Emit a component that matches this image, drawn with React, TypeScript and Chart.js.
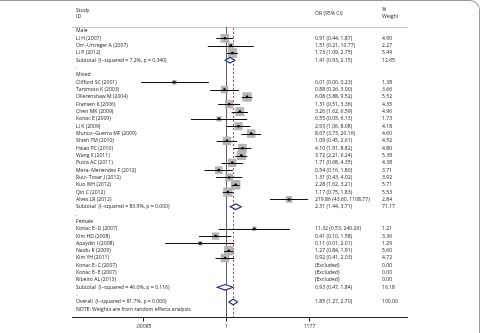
import { useEffect, useRef } from "react";
import { Chart, registerables } from "chart.js";

Chart.register(...registerables);

// One entry per plotted row, top to bottom.
const rowLabels = [
  "Male",
  "Li H (2007)",
  "Orr−Urtreger A (2007)",
  "Li P (2012)",
  "Subtotal  (I−squared = 7.2%, p = 0.340)",
  ".",
  "Mixed",
  "Clifford SC (2001)",
  "Tanimoto K (2003)",
  "Ollerenshaw M (2004)",
  "Fransen K (2006)",
  "Chen MK (2009)",
  "Konac E (2009)",
  "Li K (2009)",
  "Munoz−Guerra MF (2009)",
  "Shieh TM (2010)",
  "Hsiao PC (2010)",
  "Wang X (2011)",
  "Putra AC (2011)",
  "Mera−Menendez F (2012)",
  "Ruiz−Tovar J (2012)",
  "Kuo WH (2012)",
  "Qin C (2012)",
  "Alves LR (2012)",
  "Subtotal  (I−squared = 83.9%, p = 0.000)",
  ".",
  "Female",
  "Konac E−D (2007)",
  "Kim HD (2008)",
  "Apaydin I (2008)",
  "Naidu R (2009)",
  "Kim YH (2011)",
  "Konac E−C (2007)",
  "Konac E−E (2007)",
  "Ribeiro AL (2013)",
  "Subtotal  (I−squared = 46.0%, p = 0.116)",
  ".",
  "Overall  (I−squared = 81.7%, p = 0.000)",
  "NOTE: Weights are from random effects analysis",
];

const rowKinds = [
  "head", "study", "study", "study", "sub", "gap",
  "head",
  "study", "study", "study", "study", "study", "study", "study", "study", "study",
  "study", "study", "study", "study", "study", "study", "study", "study",
  "sub", "gap",
  "head",
  "study", "study", "study", "study", "study", "study", "study", "study",
  "sub", "gap",
  "sub", "note",
];

const oddsRatios = [
  null, 0.91, 1.51, 1.73, 1.41, null,
  null, 0.012, 0.88, 6.08, 1.31, 3.26, 0.55, 2.93, 8.67, 1.09, 4.10, 3.72, 1.71, 0.54, 1.31, 2.28, 1.17, 219.86, 2.31, null,
  null, 11.32, 0.41, 0.11, 1.27, 0.92, null, null, null, 0.93, null,
  1.85, null,
];

const ciLower = [
  null, 0.44, 0.21, 1.09, 0.93, null,
  null, 0.0007, 0.26, 3.88, 0.51, 1.62, 0.05, 1.06, 3.73, 0.45, 1.91, 2.21, 0.68, 0.16, 0.43, 1.62, 0.75, 43.60, 1.44, null,
  null, 0.53, 0.10, 0.0055, 0.84, 0.41, null, null, null, 0.47, null,
  1.27, null,
];

const ciUpper = [
  null, 1.87, 10.77, 2.75, 2.15, null,
  null, 0.23, 3.00, 9.52, 3.36, 6.59, 6.13, 8.08, 20.16, 2.61, 8.82, 6.24, 4.35, 1.80, 4.02, 3.21, 1.83, 1108.77, 3.71, null,
  null, 240.26, 1.58, 2.01, 1.91, 2.03, null, null, null, 1.84, null,
  2.70, null,
];

const weights = [
  null, 4.90, 2.27, 5.49, 12.65, null,
  null, 1.38, 3.66, 5.52, 4.35, 4.96, 1.73, 4.18, 4.60, 4.52, 4.80, 5.38, 4.38, 3.71, 3.92, 5.71, 5.53, 2.84, 71.17, null,
  null, 1.21, 3.36, 1.29, 5.60, 4.72, 0.00, 0.00, 0.00, 16.18, null,
  100.00, null,
];

const xTickValues = [0.00085, 1, 1177];
const xTickLabels = [".00085", "1", "1177"];

const OVERALL_ROW = 37;

const FONT = '5.1px "Open Sans"';
const TEXT_COLOR = "#222222";
const STUDY_X = 76;
const OR_X = 315;
const WEIGHT_X = 382;

const fmt = (v: number) => v.toFixed(2);

const forestPlugin = {
  id: "forest",
  beforeDatasetsDraw(chart: any) {
    const { ctx, chartArea: a } = chart;
    const x = chart.scales.x;
    const y = chart.scales.y;
    const rowY = (i: number) => y.getPixelForValue(i + 1);

    ctx.save();

    // header separator
    ctx.strokeStyle = "#c8c8c8";
    ctx.lineWidth = 1;
    ctx.beginPath();
    ctx.moveTo(a.left, Math.round(a.top) + 0.5);
    ctx.lineTo(a.right, Math.round(a.top) + 0.5);
    ctx.stroke();

    // line of no effect
    const x1 = Math.round(x.getPixelForValue(1)) + 0.5;
    ctx.strokeStyle = "#5f5f5f";
    ctx.beginPath();
    ctx.moveTo(x1, a.top);
    ctx.lineTo(x1, a.bottom);
    ctx.stroke();

    // overall estimate
    const xo = Math.round(x.getPixelForValue(oddsRatios[OVERALL_ROW] as number)) + 0.5;
    ctx.strokeStyle = "#c0504d";
    ctx.setLineDash([2, 2]);
    ctx.beginPath();
    ctx.moveTo(xo, a.top + 1);
    ctx.lineTo(xo, a.bottom);
    ctx.stroke();
    ctx.setLineDash([]);

    // weight boxes
    ctx.fillStyle = "#b4b4b4";
    rowKinds.forEach((k, i) => {
      const or = oddsRatios[i];
      const w = weights[i];
      if (k !== "study" || or == null || !w) return;
      const s = 3.96 * Math.sqrt(w);
      const cx = x.getPixelForValue(or);
      const cy = rowY(i);
      ctx.fillRect(cx - s / 2, cy - s / 2, s, s);
    });

    // confidence intervals
    ctx.strokeStyle = "#111111";
    ctx.lineWidth = 1;
    rowKinds.forEach((k, i) => {
      const lo = ciLower[i];
      const hi = ciUpper[i];
      if (k !== "study" || lo == null || hi == null) return;
      const cy = Math.round(rowY(i)) + 0.5;
      ctx.beginPath();
      ctx.moveTo(Math.max(a.left, x.getPixelForValue(lo)), cy);
      ctx.lineTo(x.getPixelForValue(hi), cy);
      ctx.stroke();
    });

    // pooled diamonds
    ctx.strokeStyle = "#1f2f80";
    ctx.fillStyle = "#ffffff";
    ctx.lineWidth = 1.1;
    rowKinds.forEach((k, i) => {
      const or = oddsRatios[i];
      const lo = ciLower[i];
      const hi = ciUpper[i];
      if (k !== "sub" || or == null || lo == null || hi == null) return;
      const cy = rowY(i);
      const h = 2.8;
      ctx.beginPath();
      ctx.moveTo(x.getPixelForValue(lo), cy);
      ctx.lineTo(x.getPixelForValue(or), cy - h);
      ctx.lineTo(x.getPixelForValue(hi), cy);
      ctx.lineTo(x.getPixelForValue(or), cy + h);
      ctx.closePath();
      ctx.fill();
      ctx.stroke();
    });

    // x axis
    const ay = Math.round(a.bottom) + 0.5;
    ctx.strokeStyle = "#222222";
    ctx.lineWidth = 1;
    ctx.beginPath();
    ctx.moveTo(a.left, ay);
    ctx.lineTo(a.right, ay);
    ctx.stroke();
    ctx.font = FONT;
    ctx.fillStyle = TEXT_COLOR;
    ctx.textBaseline = "middle";
    ctx.textAlign = "center";
    xTickValues.forEach((v, j) => {
      const tx = Math.round(x.getPixelForValue(v)) + 0.5;
      ctx.beginPath();
      ctx.moveTo(tx, ay);
      ctx.lineTo(tx, ay + 4);
      ctx.stroke();
      ctx.fillText(xTickLabels[j], tx, ay + 9);
    });

    // column headers
    ctx.textAlign = "left";
    ctx.fillText("Study", STUDY_X, y.getPixelForValue(-1.85));
    ctx.fillText("ID", STUDY_X, y.getPixelForValue(-0.98));
    ctx.fillText("OR (95% CI)", OR_X, y.getPixelForValue(-1.36));
    ctx.fillText("%", WEIGHT_X, y.getPixelForValue(-1.94));
    ctx.fillText("Weight", WEIGHT_X, y.getPixelForValue(-1.01));

    // row text
    rowKinds.forEach((k, i) => {
      const cy = rowY(i);
      ctx.fillText(rowLabels[i], STUDY_X, cy);
      if (k === "study" || k === "sub") {
        const or = oddsRatios[i];
        const lo = ciLower[i];
        const hi = ciUpper[i];
        const ciText =
          or == null || lo == null || hi == null
            ? "(Excluded)"
            : `${fmt(or)} (${fmt(lo)}, ${fmt(hi)})`;
        ctx.fillText(ciText, OR_X, cy);
        ctx.fillText(fmt(weights[i] as number), WEIGHT_X, cy);
      }
    });

    ctx.restore();
  },
};

export default function App() {
  const canvasRef = useRef<HTMLCanvasElement | null>(null);

  useEffect(() => {
    const canvas = canvasRef.current;
    if (!canvas) return;

    const points = rowKinds
      .map((k, i) => ({ k, i }))
      .filter(({ k, i }) => k === "study" && oddsRatios[i] != null)
      .map(({ i }) => ({ x: oddsRatios[i] as number, y: i + 1 }));

    const chart = new Chart(canvas, {
      type: "scatter",
      data: {
        datasets: [
          {
            data: points,
            pointRadius: 1.3,
            pointHoverRadius: 1.3,
            backgroundColor: "#000000",
            borderWidth: 0,
          },
        ],
      },
      options: {
        responsive: false,
        animation: false,
        events: [],
        layout: { padding: { left: 72, right: 75, top: 27, bottom: 16 } },
        plugins: { legend: { display: false }, tooltip: { enabled: false } },
        scales: {
          x: {
            type: "logarithmic",
            display: false,
            bounds: "data",
            min: Math.pow(10, -154 / 26.9),
            max: Math.pow(10, 182 / 26.9),
          },
          y: {
            type: "linear",
            display: false,
            bounds: "data",
            reverse: true,
            min: 0.454,
            max: 40.05,
          },
        },
      },
      plugins: [forestPlugin],
    });

    return () => chart.destroy();
  }, []);

  return (
    <div style={{ position: "fixed", left: 0, top: 0, width: 483, height: 333, background: "#ffffff", overflow: "hidden" }}>
      <canvas ref={canvasRef} width={483} height={333} style={{ display: "block" }} />
      <div
        style={{
          position: "absolute",
          left: -2,
          top: 0,
          width: 482,
          height: 360,
          borderTop: "1px solid #9a9a9a",
          borderRight: "1px solid #9a9a9a",
          borderTopRightRadius: 10,
          boxSizing: "border-box",
          pointerEvents: "none",
        }}
      />
    </div>
  );
}
